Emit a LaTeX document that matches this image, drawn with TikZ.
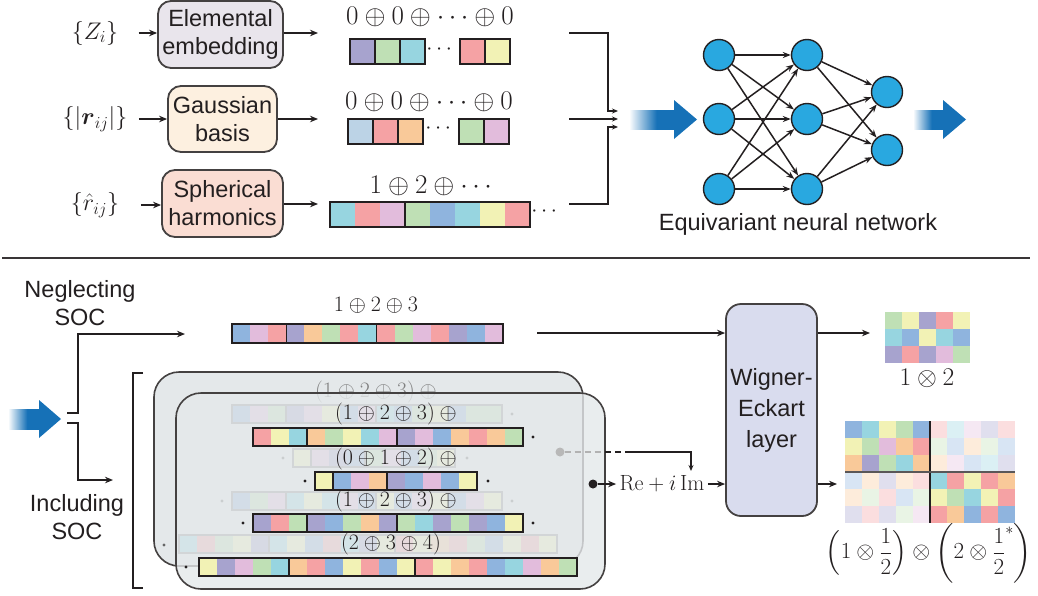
\documentclass[tikz,border=0pt]{standalone}
\usepackage{fix-cm}
\usepackage{amsmath}
\usepackage{fontspec}
\newfontfamily\sff{Liberation Sans}
\usetikzlibrary{arrows.meta}
\definecolor{txt}{HTML}{231F20}
\definecolor{cpur}{HTML}{A7A3CE}
\definecolor{cgrn}{HTML}{BFE0B5}
\definecolor{ccya}{HTML}{97D5E0}
\definecolor{cpnk}{HTML}{F5A2A4}
\definecolor{cyel}{HTML}{F2F2B5}
\definecolor{clbl}{HTML}{BCD3E6}
\definecolor{corg}{HTML}{F9C999}
\definecolor{clav}{HTML}{E2BCDC}
\definecolor{cblu}{HTML}{8FB4DE}
\definecolor{nnblue}{HTML}{29A8E0}
\definecolor{arrowblue}{HTML}{1671B7}
\definecolor{panel}{HTML}{E4E8EA}
\definecolor{webg}{HTML}{D9DCEE}
\definecolor{embg}{HTML}{E9E5EC}
\definecolor{gaubg}{HTML}{FDF0E0}
\definecolor{sphbg}{HTML}{FADDD3}
\colorlet{fpur}{cpur!35!white}
\colorlet{fgrn}{cgrn!35!white}
\colorlet{fcya}{ccya!35!white}
\colorlet{fpnk}{cpnk!35!white}
\colorlet{fyel}{cyel!35!white}
\colorlet{forg}{corg!35!white}
\colorlet{flav}{clav!35!white}
\colorlet{fblu}{cblu!35!white}
\pgfdeclarehorizontalshading{fatshade}{100bp}{color(0bp)=(white); color(25bp)=(white); color(55bp)=(arrowblue); color(100bp)=(arrowblue)}
% x y cellw h n colors dividers
\newcommand\cbar[7]{%
  \foreach \cc [count=\ii from 0] in {#6} {\fill[\cc] ({#1+\ii*#3},#2) rectangle ++(#3,#4);}
  \draw[barline] (#1,#2) rectangle ++({#5*#3},#4);
  \foreach \dd in {#7} {\draw[barline] ({#1+\dd*#3},#2) -- ++(0,#4);}
}
\newcommand\mrow[3]{%
  \foreach \cc [count=\ii from 0] in {#3} {\fill[\cc] ({#1+\ii*17},#2) rectangle ++(17,17);}
}
\newcommand\tplus{\mskip\medmuskip\oplus}
\begin{document}
\begin{tikzpicture}[x=1pt,y=-1pt,
  barline/.style={draw=txt,line width=1.2pt},
  lbl/.style={font=\sff\fontsize{23.5}{28}\selectfont, text=txt, align=center},
  box/.style={lbl, draw=txt!85, line width=1.8pt, rounded corners=13pt, inner sep=0pt},
  mbig/.style={font=\fontsize{27}{30}\selectfont, text=txt},
  mmid/.style={font=\fontsize{24}{28}\selectfont, text=txt},
  msm/.style={font=\fontsize{22}{24}\selectfont, text=txt},
  conn/.style={draw=txt, line width=1.6pt, -{Stealth[length=8pt,width=6.5pt]}},
  connS/.style={draw=txt, line width=1.4pt, -{Stealth[length=6pt,width=5pt]}},
  nn/.style={circle, fill=nnblue, draw=txt, line width=1.4pt, minimum size=31pt, inner sep=0pt},
  nnarr/.style={draw=txt, line width=1.5pt, -{Stealth[length=8pt,width=6pt]}},
  dotn/.style={circle, inner sep=0pt, minimum size=3.2pt, fill=txt},
]
\useasboundingbox (0,0) rectangle (1038,595);

% ---------------- top part ----------------
\node[mmid] (zi) at (95,33) {$\{Z_i\}$};
\node[mmid] (rij) at (95,119) {$\{|\boldsymbol{r}_{ij}|\}$};
\node[mmid] (rh) at (95,205) {$\{\hat{r}_{ij}\}$};

\node[box, fill=embg, minimum width=125pt, minimum height=67pt] (emb) at (220.5,34.5) {Elemental\\embedding};
\node[box, fill=gaubg, minimum width=109pt, minimum height=66pt] (gau) at (222.5,119) {Gaussian\\basis};
\node[box, fill=sphbg, minimum width=121pt, minimum height=67pt] (sph) at (222.5,203.5) {Spherical\\harmonics};

\draw[conn] ([xshift=17pt]zi.east) -- (zi.east -| emb.west);
\draw[conn] ([xshift=8pt]rij.east) -- (rij.east -| gau.west);
\draw[conn] ([xshift=18pt]rh.east) -- (rh.east -| sph.west);

\coordinate (o1) at (318,33);
\coordinate (o2) at (318,119);
\coordinate (o3) at (318,204);
\draw[conn] (emb.east |- o1) -- (o1);
\draw[conn] (gau.east |- o2) -- (o2);
\draw[conn] (sph.east |- o3) -- (o3);

\node[mbig] (f1) at (430,17) {$0\oplus 0\oplus \cdots \oplus 0$};
\node[mbig] (f2) at (429,102) {$0\oplus 0\oplus \cdots \oplus 0$};
\node[mbig] (f3) at (433,186) {$1\oplus 2\oplus \cdots$};

\cbar{350}{39}{25}{25}{3}{cpur,cgrn,ccya}{1,2}
\node[msm] (d1) at (441,50) {$\cdots$};
\cbar{460}{39}{25}{25}{2}{cpnk,cyel}{1}
\cbar{348}{119}{25}{25}{3}{clbl,cpnk,corg}{1,2}
\node[msm] (d2) at (440,129) {$\cdots$};
\cbar{459}{119}{25}{25}{2}{cgrn,clav}{1}
\cbar{330}{202}{25}{25}{8}{ccya,cpnk,clav,cgrn,cblu,ccya,cyel,cpnk}{3}
\node[msm] (d3) at (546,212) {$\cdots$};

\coordinate (m1) at (569,33);
\coordinate (m2) at (569,119);
\coordinate (m3) at (569,204);
\coordinate (n1) at (618,111);
\coordinate (n2) at (618,119);
\coordinate (n3) at (618,127);
\draw[connS] (m1) -| ([xshift=-10pt]n1) -- (n1);
\draw[connS] (m2) -- (n2);
\draw[connS] (m3) -| ([xshift=-10pt]n3) -- (n3);

% fat arrows
\shade[shading=fatshade] (629,110) rectangle (675,129);
\fill[arrowblue] (674,100) -- (697,119.5) -- (674,139) -- cycle;
\shade[shading=fatshade] (913,110) rectangle (944,129);
\fill[arrowblue] (943,100) -- (966,119.5) -- (943,139) -- cycle;

% neural network
\node[nn] (a1) at (719,55) {};
\node[nn] (a2) at (719,119) {};
\node[nn] (a3) at (719,189) {};
\node[nn] (b1) at (807,55) {};
\node[nn] (b2) at (807,119) {};
\node[nn] (b3) at (807,189) {};
\node[nn] (c1) at (887,92) {};
\node[nn] (c2) at (887,150) {};
\foreach \s in {a1,a2,a3}{\foreach \t in {b1,b2,b3}{\draw[nnarr] (\s) -- (\t);}}
\foreach \s in {b1,b2,b3}{\foreach \t in {c1,c2}{\draw[nnarr] (\s) -- (\t);}}
\node[lbl] (enn) at (798,224) {Equivariant neural network};

% separator
\draw[draw=txt!90, line width=1.5pt] (2,258) -- (1030,258);

% ---------------- bottom part ----------------
\node[lbl] (neg) at (80,303) {Neglecting\\SOC};
\node[lbl] (inc) at (77,517) {Including\\SOC};

\shade[shading=fatshade] (8,409) rectangle (40,429);
\fill[arrowblue] (39,400) -- (61,419) -- (39,438) -- cycle;

\coordinate (s1) at (67,413);
\coordinate (s2) at (67,423);
\coordinate (t1) at (185,334);
\coordinate (t2) at (113,480);
\draw[conn] (s1) -- ++(11,0) |- (t1);
\draw[conn] (s2) -- ++(11,0) |- (t2);

\node[msm] (fneg) at (376,305) {$1\oplus 2\oplus 3$};
\cbar{232}{324}{18.07}{19}{15}{cblu,clav,cpnk,cpur,corg,cgrn,cpnk,ccya,cpnk,cgrn,clav,cpnk,cpur,cblu,clav}{3,8}

% bracket
\draw[draw=txt, line width=1.4pt] (143,373) -- (133,373) -- (133,588) -- (143,588);

% back panel
\draw[draw=txt!85, line width=1.6pt, fill=panel, rounded corners=25pt] (154,372) rectangle (583,566);
\begin{scope}[barline/.style={draw=black!45,line width=1.2pt}]
\cbar{232}{405}{18}{18}{15}{cblu,clav,cgrn,cpur,clav,cyel,cblu,clav,ccya,cblu,cgrn,cyel,cblu,cgrn,cgrn}{3,8}
\cbar{293}{449}{18}{18}{9}{cyel,clav,cpur,cblu,cgrn,clav,cblu,cgrn,cyel}{1,4}
\cbar{232}{492}{18}{18}{15}{cblu,cgrn,clav,ccya,cyel,ccya,clav,cblu,cyel,cblu,clav,cyel,cblu,clav,cyel}{3,8}
\cbar{179}{535}{18}{18}{21}{ccya,cpnk,cgrn,cyel,cpur,ccya,cyel,cblu,cpnk,ccya,cpur,cyel,cpnk,cyel,corg,cpnk,cgrn,cblu,cyel,cpnk,cyel}{5,12}
\end{scope}
\node[msm, text=black!50] (bl1) at (376,392) {$(1\oplus 2\oplus 3)\tplus$};
\node[dotn, fill=black!60] (bd1) at (512,414) {};
\node[dotn, fill=black!60] (bd2) at (283,458) {};
\node[dotn, fill=black!60] (bd3) at (467,458) {};
\node[dotn, fill=black!60] (bd4) at (222,501) {};
\node[dotn, fill=black!60] (bd5) at (512,501) {};
\node[dotn, fill=black!60] (bd6) at (164,545) {};

% front panel
\fill[panel, fill opacity=0.8, rounded corners=25pt] (176,393) rectangle (605,589);
\draw[draw=txt!85, line width=1.6pt, rounded corners=25pt] (176,393) rectangle (605,589);

\node[msm] (l1) at (396,414) {$(1\oplus 2\oplus 3)\tplus$};
\node[msm] (l2) at (396,459) {$(0\oplus 1\oplus 2)\tplus$};
\node[msm] (l3) at (396,501) {$(1\oplus 2\oplus 3)\tplus$};
\node[msm] (l4) at (391,544) {$(2\oplus 3\oplus 4)$};

\cbar{253}{428}{18}{18}{15}{cpnk,cyel,ccya,corg,cgrn,cyel,ccya,clav,cpur,clav,cblu,corg,cpnk,corg,cgrn}{3,8}
\cbar{315}{472}{18}{18}{9}{cyel,cblu,clav,corg,cpur,cblu,clav,cblu,cyel}{1,4}
\cbar{253}{514}{18}{18}{15}{cpur,cpnk,cgrn,cpur,cblu,cgrn,corg,cpur,cgrn,ccya,cpur,cgrn,cpur,cblu,cyel}{3,8}
\cbar{199}{558}{18}{18}{21}{cyel,cpur,clav,cgrn,ccya,corg,cpnk,cblu,cyel,cpnk,cblu,cyel,cpnk,cyel,corg,cpnk,cblu,ccya,clav,corg,cgrn}{5,12}
\node[dotn] (fd1) at (533,437) {};
\node[dotn] (fd2) at (305,481) {};
\node[dotn] (fd3) at (488,481) {};
\node[dotn] (fd4) at (243,523) {};
\node[dotn] (fd5) at (533,523) {};
\node[dotn] (fd6) at (186,567) {};

% Re + i Im
\node[msm] (rim) at (662,484) {$\mathrm{Re}+i\,\mathrm{Im}$};
\node[circle, fill=txt, inner sep=0pt, minimum size=9pt] (bdot) at (593,484) {};
\node[circle, fill=black!28, inner sep=0pt, minimum size=9pt] (gdot) at (560,452) {};
\coordinate (pe) at (605,452);
\coordinate (dk) at (627,452);
\coordinate (rt) at (691,471);
\draw[draw=black!30, line width=1.4pt, dash pattern=on 6pt off 4pt] (gdot) -- (pe);
\draw[draw=txt, line width=1.4pt, dash pattern=on 6pt off 4pt] (pe) -- (dk);
\draw[connS] (dk) -| (rt);
\draw[conn] (bdot) -- (rim.west);

% Wigner-Eckart layer
\node[box, fill=webg, minimum width=91pt, minimum height=212pt, rounded corners=15pt, font=\sff\fontsize{23.5}{31}\selectfont] (we) at (771.5,410) {Wigner-\\Eckart\\layer};
\coordinate (ns) at (537,333);
\coordinate (w1) at (870,333);
\coordinate (w2) at (837,484);
\draw[conn] (ns) -- (ns -| we.west);
\draw[conn] (rim.east) -- (rim.east -| we.west);
\draw[conn] (we.east |- w1) -- (w1);
\draw[conn] (we.east |- w2) -- (w2);

% matrix 1
\mrow{885}{312}{cgrn,cyel,cpur,cpnk,cyel}
\mrow{885}{329}{ccya,cblu,cyel,ccya,cblu}
\mrow{885}{346}{cpur,cpnk,cpur,clav,cgrn}
\node[font=\fontsize{25.5}{28}\selectfont, text=txt] (lab1) at (927,378) {$1\otimes 2$};

% matrix 2
\mrow{845}{421}{cblu,ccya,cyel,cgrn,cblu,fpnk,fcya,flav,fpur,fpnk}
\mrow{845}{438}{cyel,cgrn,clav,corg,cpnk,fgrn,fblu,forg,fgrn,fblu}
\mrow{845}{455}{corg,cpur,cgrn,ccya,corg,forg,flav,fblu,fcya,fpur}
\mrow{845}{472}{fblu,forg,fpur,forg,fpnk,ccya,cpnk,cyel,cpnk,corg}
\mrow{845}{489}{forg,fgrn,fpnk,fblu,fgrn,cyel,cgrn,ccya,cyel,cpnk}
\mrow{845}{506}{fpur,fpnk,fpur,fgrn,flav,cpnk,corg,cblu,cpnk,cblu}
\draw[draw=txt, line width=1.1pt] (930,421) -- (930,523);
\draw[draw=txt!75, line width=1.5pt] (845,472) -- (1015,472);
\node[font=\fontsize{23}{25}\selectfont, text=txt] (lab2) at (929,553) {$\left(1\otimes\dfrac{1}{2}\right)\otimes\left(2\otimes\dfrac{1}{2}^{*}\right)$};
\end{tikzpicture}
\end{document}
